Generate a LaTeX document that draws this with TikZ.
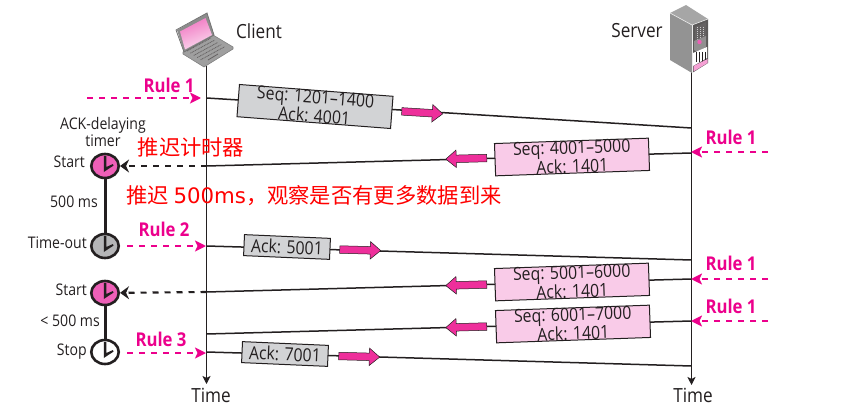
\documentclass[tikz,border=0pt]{standalone}
\usepackage{fontspec}
\setmainfont[FakeStretch=0.88]{Open Sans}
\newfontfamily\cjk{Noto Sans CJK SC}
\newfontfamily\djv{DejaVu Sans}
\usetikzlibrary{arrows.meta,shapes.arrows,shapes.geometric,calc}
\definecolor{rulepink}{HTML}{EC008C}
\definecolor{darkline}{HTML}{231F20}
\definecolor{arrowpink}{HTML}{EE2F9B}
\definecolor{boxpink}{HTML}{F9CBE8}
\definecolor{boxgray}{HTML}{D2D3D5}
\definecolor{clockpink}{HTML}{EE5FB7}
\definecolor{clockgray}{HTML}{B5B5B7}
\tikzset{
  x=1pt,y=-1pt,
  lab/.style={font=\fontsize{16}{16}\selectfont,text=darkline,inner sep=0pt},
  bigl/.style={font=\fontsize{19.5}{20}\selectfont,text=darkline,inner sep=0pt},
  rulel/.style={font=\fontsize{19}{19}\selectfont\bfseries,text=rulepink,inner sep=0pt},
  cn/.style={font=\fontsize{21.3}{22}\selectfont\cjk,text=red,inner sep=0pt},
  life/.style={draw=darkline,line width=.9pt,-{Stealth[length=8pt,width=8pt,inset=2pt]}},
  seg/.style={draw=darkline,line width=1.5pt},
  segbox/.style={draw=darkline,line width=1pt,inner sep=0pt,align=center,text=darkline,
    font=\fontsize{18}{15.5}\selectfont},
  data/.style={segbox,fill=boxgray,minimum width=154pt,minimum height=31pt},
  ackb/.style={segbox,fill=boxgray,minimum width=86pt,minimum height=21pt},
  back/.style={segbox,fill=boxpink,minimum width=154pt,minimum height=32pt},
  pinkarr/.style={single arrow,draw=darkline,line width=.5pt,fill=arrowpink,inner sep=3.5pt,
    minimum height=41pt,single arrow head extend=5pt,single arrow tip angle=80},
  ruled/.style={draw=rulepink,line width=1.8pt,dash pattern=on 6pt off 6pt,
    -{Stealth[length=11pt,width=11pt,inset=2.5pt,color=rulepink]}},
  ackd/.style={draw=darkline,line width=2.1pt,dash pattern=on 6pt off 6pt,
    -{Stealth[length=9pt,width=13pt,inset=3pt,color=darkline]}},
  clock/.style={ellipse,draw=darkline,line width=2.6pt,minimum width=27.5pt,minimum height=24pt,inner sep=0pt},
  timerline/.style={draw=darkline,line width=3pt},
}
\newcommand{\clockhand}[1]{\fill[darkline] ($(#1)+(-1.2,-10)$) -- ++(2.6,0) -- ++(0,11) -- ++(6.5,-3) -- ++(.6,1.6) -- ++(-9.7,6.4) -- cycle;}
\begin{document}
\begin{tikzpicture}
\useasboundingbox (0,0) rectangle (842,417);
% coordinates
\coordinate (ctop) at (206.5,66);
\coordinate (cbot) at (206.5,384);
\coordinate (stop) at (691.5,72);
\coordinate (sbot) at (691.5,385);
\coordinate (c1) at (206.5,98);    \coordinate (s1) at (691.5,128);
\coordinate (c2) at (206.5,166);   \coordinate (s2) at (691.5,153);
\coordinate (c3) at (206.5,246);   \coordinate (s3) at (691.5,260);
\coordinate (c4) at (206.5,292);   \coordinate (s4) at (691.5,279);
\coordinate (c5) at (206.5,334);   \coordinate (s5) at (691.5,321);
\coordinate (c6) at (206.5,352);   \coordinate (s6) at (691.5,366);
\coordinate (r1a) at (87,98);    \coordinate (r1b) at (201,98);
\coordinate (r2a) at (127,246);  \coordinate (r2b) at (206,246);
\coordinate (r3a) at (127,353);  \coordinate (r3b) at (206,353);
\coordinate (r4a) at (768,152);  \coordinate (r4b) at (691,152);
\coordinate (r5a) at (768,279);  \coordinate (r5b) at (691,279);
\coordinate (r6a) at (768,321);  \coordinate (r6b) at (691,321);
% lifelines
\draw[life] (ctop) -- (cbot);
\draw[life] (stop) -- (sbot);
% segments
\foreach \i in {1,...,6} \draw[seg] (c\i) -- (s\i);
% boxes
\node[data,rotate=-4.4] (b1) at (315,106.5) {\raisebox{1pt}{Seq: 1201–1400}\\Ack: 4001};
\node[back,rotate=2] (b2) at (572,157) {\raisebox{1pt}{Seq: 4001–5000}\\Ack: 1401};
\node[ackb,rotate=-2.5] (b3) at (287,247) {Ack: 5001};
\node[back,rotate=2] (b4) at (572,282) {\raisebox{1pt}{Seq: 5001–6000}\\Ack: 1401};
\node[back,rotate=2] (b5) at (573,324) {\raisebox{1pt}{Seq: 6001–7000}\\Ack: 1401};
\node[ackb,rotate=-2.5] (b6) at (285,354) {Ack: 7001};
% pink arrows
\node[pinkarr,rotate=-3.5] (a1) at (420,112.5) {};
\node[pinkarr,rotate=181.5] (a2) at (468.5,158.5) {};
\node[pinkarr,rotate=-1.5] (a3) at (358,250) {};
\node[pinkarr,rotate=181.5] (a4) at (468.5,285) {};
\node[pinkarr,rotate=181.5] (a5) at (468.5,327) {};
\node[pinkarr,rotate=-1.5] (a6) at (357,356.5) {};
% rules
\draw[ruled] (r1a) -- (r1b);
\draw[ruled] (r2a) -- (r2b);
\draw[ruled] (r3a) -- (r3b);
\draw[ruled] (r4a) -- (r4b);
\draw[ruled] (r5a) -- (r5b);
\draw[ruled] (r6a) -- (r6b);
\node[rulel] (l1) at (169,85) {Rule 1};
\node[rulel] (l2) at (164,229) {Rule 2};
\node[rulel] (l3) at (161,339) {Rule 3};
\node[rulel] (l4) at (731,137) {Rule 1};
\node[rulel] (l5) at (731,263) {Rule 1};
\node[rulel] (l6) at (731,306) {Rule 1};
% timers
\coordinate (t1) at (105,166);
\coordinate (t2) at (105,246);
\coordinate (t3) at (105,293);
\coordinate (t4) at (105,352);
\draw[timerline] (t1) -- (t2);
\draw[timerline] (t3) -- (t4);
\node[clock,fill=clockpink] (k1) at (t1) {};
\node[clock,fill=clockgray] (k2) at (t2) {};
\node[clock,fill=clockpink] (k3) at (t3) {};
\node[clock,fill=white] (k4) at (t4) {};
\clockhand{t1}\clockhand{t2}\clockhand{t3}\clockhand{t4}
\draw[ackd] (c2) -- (k1);
\draw[ackd] (c4) -- (k3);
% labels
\node[lab] (n1) at (103,125) {ACK-delaying};
\node[lab] (n2) at (103,141) {timer};
\node[lab,anchor=east] (n3) at (85,162) {Start};
\node[lab] (n4) at (74,202) {500 ms};
\node[lab,anchor=east] (n5) at (87,243) {Time-out};
\node[lab,anchor=east] (n6) at (87,290) {Start};
\node[lab,anchor=east] (n7) at (100,321) {< 500 ms};
\node[lab,anchor=east] (n8) at (87,352) {Stop};
\node[bigl] (cl) at (259,31) {Client};
\node[bigl] (sv) at (637,31) {Server};
\node[bigl] (t1l) at (211,395) {Time};
\node[bigl] (t2l) at (693,395) {Time};
\node[cn] (z1) at (191,147) {推迟计时器};
\node[cn,anchor=west] (z2) at (126,196) {推迟 {\djv 500ms}，观察是否有更多数据到来};
% laptop
\fill[gray!75,draw=gray,line width=.6pt] (183,52) -- (213,35) -- (233,47) -- (233,49) -- (204,67) -- (183,54) -- cycle;
\fill[gray!90] (177,30) -- (207,13) -- (214,35) -- (184,52) -- cycle;
\draw[gray!90!black,line width=.8pt] (176,30) -- (207,13) -- (214,35) -- (184,52) -- cycle;
\shade[left color=clockpink!85,right color=boxpink!70,shading angle=20] (180,31.5) -- (205.5,18) -- (212,35) -- (185,49.5) -- cycle;
\foreach \t in {0,.2,.4,.6,.8}
  \draw[darkline!70,line width=.8pt,dash pattern=on 1pt off .7pt] ($(187,51)!\t!(204,62)$) -- ++(24,-13);
\draw[darkline!70,line width=.8pt] (208,60) -- (218,54);
% server
\fill[gray!85] (670,13) -- (692,25) -- (692,73) -- (670,60) -- cycle;
\fill[gray!70] (670,13) -- (686,5) -- (708,19) -- (692,25) -- cycle;
\fill[gray!60!darkline] (692,25) -- (708,19) -- (708,63) -- (692,73) -- cycle;
\draw[white!85!gray,line width=.6pt] (670,13) -- (692,25) -- (708,19);
\draw[white!85!gray,line width=.6pt] (692,25) -- (692,73);
\fill[darkline!70] (695,27) -- (706,22) -- (706,38) -- (695,43) -- cycle;
\foreach \x in {697,700,703} \draw[gray!40,line width=.8pt,dash pattern=on 1pt off 1pt] (\x,27) -- (\x,41);
\fill[darkline!50] (694,41) -- (706,36) -- (706,47) -- (701,54) -- (694,50) -- cycle;
\fill[clockpink] (699.5,42) circle (2.2);
\fill[white] (693,53) -- (707,47) -- (707,58) -- (693,66) -- cycle;
\foreach \x in {696,699,702,705} \draw[darkline,line width=1pt] (\x,52) -- (\x,62);
\fill[boxpink!60!clockpink] (693.5,66) -- (707.5,59) -- (707.5,63) -- (693.5,71.5) -- cycle;
\end{tikzpicture}
\end{document}
